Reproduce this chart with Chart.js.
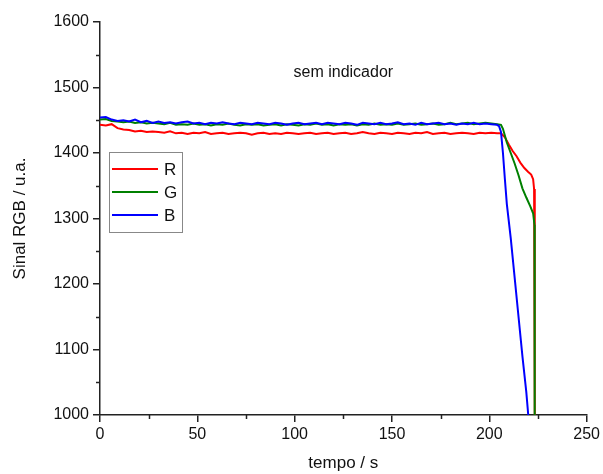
<!DOCTYPE html>
<html>
<head>
<meta charset="utf-8">
<script src="https://cdn.jsdelivr.net/npm/chart.js@4.4.0/dist/chart.umd.min.js"></script>
<style>
  html, body { margin: 0; padding: 0; background: #fff; }
  #wrap { width: 603px; height: 474px; }
</style>
</head>
<body>
<div id="wrap"><canvas id="chart"></canvas></div>
<script>
// tempo (s) da parte estável, comum às três séries
const tempoPlano = [
  0, 3, 6, 9, 12, 15, 18, 21, 24, 27,
  30, 33, 36, 39, 42, 45, 48, 51, 54, 57,
  60, 63, 66, 69, 72, 75, 78, 81, 84, 87,
  90, 93, 96, 99, 102, 105, 108, 111, 114, 117,
  120, 123, 126, 129, 132, 135, 138, 141, 144, 147,
  150, 153, 156, 159, 162, 165, 168, 171, 174, 177,
  180, 183, 186, 189, 192, 195, 198, 201, 204
];

const sinalR = [
  1443, 1442, 1444, 1438, 1436, 1435, 1433, 1434, 1432, 1433,
  1432, 1431, 1433, 1430, 1431, 1429, 1431, 1430, 1432, 1429,
  1430, 1431, 1429, 1430, 1431, 1430, 1428, 1430, 1431, 1429,
  1430, 1429, 1431, 1430, 1429, 1430, 1431, 1429, 1430, 1431,
  1429, 1430, 1431, 1429, 1430, 1432, 1430, 1429, 1431, 1430,
  1429, 1431, 1430, 1429, 1431, 1430, 1432, 1429, 1430, 1431,
  1429, 1430, 1431, 1430, 1429, 1431, 1430, 1431, 1430
];
const sinalG = [
  1451, 1452, 1449, 1448, 1447, 1448, 1446, 1447, 1445, 1446,
  1445, 1444, 1446, 1443, 1444, 1443, 1445, 1443, 1444, 1442,
  1444, 1443, 1445, 1443, 1442, 1444, 1443, 1444, 1442, 1443,
  1444, 1442, 1444, 1443, 1442, 1444, 1443, 1445, 1443, 1444,
  1442, 1444, 1443, 1444, 1442, 1444, 1443, 1445, 1443, 1444,
  1443, 1445, 1443, 1444, 1445, 1443, 1444, 1445, 1443, 1444,
  1446, 1444, 1445, 1446, 1444, 1445, 1446, 1445, 1444
];
const sinalB = [
  1454, 1455, 1451, 1449, 1450, 1448, 1451, 1447, 1449, 1446,
  1448, 1446, 1447, 1445, 1447, 1448, 1445, 1446, 1444, 1446,
  1445, 1447, 1445, 1444, 1446, 1445, 1444, 1446, 1445, 1444,
  1446, 1445, 1443, 1445, 1446, 1444, 1445, 1446, 1444, 1446,
  1445, 1444, 1446, 1445, 1443, 1446, 1445, 1444, 1446, 1444,
  1445, 1447, 1444, 1445, 1443, 1446, 1444, 1445, 1446, 1444,
  1445, 1443, 1445, 1444, 1446, 1444, 1445, 1444, 1443
];

// queda final de cada sinal
const tempoQuedaR = [206, 208, 210, 212, 214, 216, 218, 220, 221.5, 222.5, 223, 223.3, 223.4];
const quedaR      = [1430, 1424, 1413, 1403, 1395, 1385, 1377, 1371, 1367, 1360, 1345, 1300, 1000];
const tempoQuedaG = [206, 207, 209, 211, 213, 215, 217, 219, 221, 222.5, 223.2, 223.3];
const quedaG      = [1443, 1437, 1416, 1400, 1384, 1366, 1346, 1332, 1319, 1308, 1290, 1000];
const tempoQuedaB = [205, 206, 207, 208, 209, 211, 213, 215, 217, 219, 220];
const quedaB      = [1441, 1432, 1400, 1360, 1322, 1270, 1210, 1150, 1090, 1035, 1000];

const rotulos = ['R', 'G', 'B'];
const cores = ['#ff0000', '#008000', '#0000ff'];

function pontos(ts, vs, tq, vq) {
  const out = ts.map((t, i) => ({ x: t, y: vs[i] }));
  tq.forEach((t, i) => out.push({ x: t, y: vq[i] }));
  return out;
}

const series = [
  pontos(tempoPlano, sinalR, tempoQuedaR, quedaR),
  pontos(tempoPlano, sinalG, tempoQuedaG, quedaG),
  pontos(tempoPlano, sinalB, tempoQuedaB, quedaB)
];

const fonte = 'Liberation Sans, Arial, sans-serif';

const extras = {
  id: 'extras',
  afterDraw(chart) {
    const { ctx, chartArea, scales } = chart;
    ctx.save();
    // ticks menores
    ctx.strokeStyle = '#222';
    ctx.lineWidth = 1.5;
    [25, 75, 125, 175, 225].forEach(v => {
      const px = Math.round(scales.x.getPixelForValue(v)) + 0.5;
      ctx.beginPath();
      ctx.moveTo(px, chartArea.bottom);
      ctx.lineTo(px, chartArea.bottom + 4);
      ctx.stroke();
    });
    [1050, 1150, 1250, 1350, 1450, 1550].forEach(v => {
      const py = Math.round(scales.y.getPixelForValue(v)) + 0.5;
      ctx.beginPath();
      ctx.moveTo(chartArea.left - 4, py);
      ctx.lineTo(chartArea.left, py);
      ctx.stroke();
    });

    // texto dentro do gráfico
    ctx.fillStyle = '#111';
    ctx.font = '16px ' + fonte;
    ctx.textAlign = 'center';
    ctx.textBaseline = 'middle';
    ctx.fillText('sem indicador', scales.x.getPixelForValue(125), scales.y.getPixelForValue(1523));

    // legenda
    const lx = chartArea.left + 9, ly = chartArea.top + 130;
    ctx.strokeStyle = '#888';
    ctx.lineWidth = 1;
    ctx.strokeRect(lx + 0.5, ly + 0.5, 73, 80);
    ctx.font = '17px ' + fonte;
    ctx.textAlign = 'left';
    rotulos.forEach((r, i) => {
      const y = ly + 17 + i * 23;
      ctx.strokeStyle = cores[i];
      ctx.lineWidth = 2;
      ctx.beginPath();
      ctx.moveTo(lx + 3, y);
      ctx.lineTo(lx + 49, y);
      ctx.stroke();
      ctx.fillStyle = '#111';
      ctx.fillText(r, lx + 55, y + 1);
    });
    ctx.restore();
  }
};

new Chart(document.getElementById('chart'), {
  type: 'line',
  data: {
    datasets: series.map((d, i) => ({
      label: rotulos[i],
      data: d,
      borderColor: cores[i],
      borderWidth: 2,
      pointRadius: 0,
      tension: 0,
      fill: false,
      order: 2 - i
    }))
  },
  options: {
    responsive: true,
    maintainAspectRatio: false,
    animation: false,
    layout: { padding: { top: 22, right: 15, left: 0, bottom: 0 } },
    plugins: { legend: { display: false }, tooltip: { enabled: false } },
    scales: {
      x: {
        type: 'linear',
        min: 0, max: 250,
        afterFit: s => { s.height = 59; },
        ticks: { stepSize: 50, color: '#111', padding: 3, font: { family: fonte, size: 16 }, maxRotation: 0, callback: v => String(v) },
        grid: { drawOnChartArea: false, drawTicks: true, tickLength: 7, color: '#222', lineWidth: 1.5 },
        border: { display: true, color: '#222', width: 1.5 },
        title: { display: true, text: 'tempo / s', color: '#111', font: { family: fonte, size: 17 }, padding: { top: 0, bottom: 0 } }
      },
      y: {
        min: 1000, max: 1600,
        afterFit: s => { s.width = 100; },
        ticks: { stepSize: 100, color: '#111', padding: 4, font: { family: fonte, size: 16 }, callback: v => String(v) },
        grid: { drawOnChartArea: false, drawTicks: true, tickLength: 7, color: '#222', lineWidth: 1.5 },
        border: { display: true, color: '#222', width: 1.5 },
        title: { display: true, text: 'Sinal RGB / u.a.', color: '#111', font: { family: fonte, size: 17 }, padding: { top: 10, bottom: 0 } }
      }
    }
  },
  plugins: [extras]
});
</script>
</body>
</html>
